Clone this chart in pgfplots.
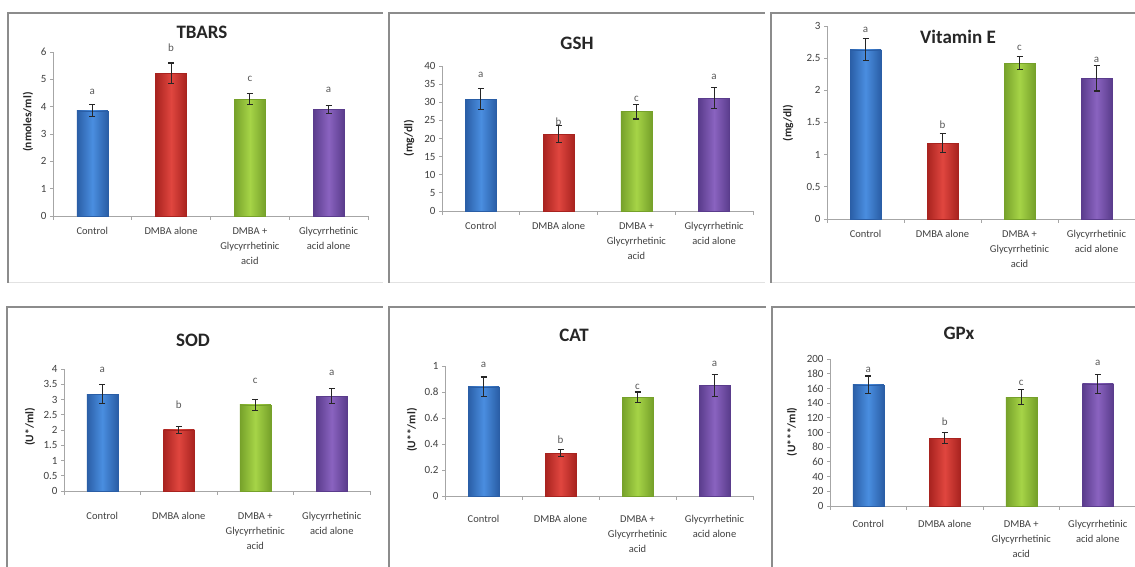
\documentclass[border=0pt]{standalone}
\usepackage{fontspec}
\setmainfont{Carlito}
\usepackage{pgfplots}
\pgfplotsset{compat=1.18}
\definecolor{axisgray}{HTML}{A6A6A6}
\definecolor{framegray}{HTML}{8C8C8C}
\definecolor{faintgray}{HTML}{E2E2E2}
\definecolor{textgray}{HTML}{404040}
\definecolor{lettergray}{HTML}{5A5A5A}
\definecolor{blueE}{HTML}{2A5EA6}
\definecolor{blueM}{HTML}{4A8EE0}
\definecolor{redE}{HTML}{A8231F}
\definecolor{redM}{HTML}{E0463F}
\definecolor{greenE}{HTML}{76A12A}
\definecolor{greenM}{HTML}{A6D447}
\definecolor{purpleE}{HTML}{5A3C8C}
\definecolor{purpleM}{HTML}{8A63C0}
\pgfplotsset{
  panel/.style={
    scale only axis, anchor=south west,
    xmin=-0.5, xmax=3.5, ymin=0,
    axis x line=bottom, axis y line=left,
    axis line style={draw=axisgray, line width=0.8pt, -},
    xtick={0,1,2,3},
    xticklabels={Control, DMBA alone, {DMBA +\\Glycyrrhetinic\\acid}, {Glycyrrhetinic\\acid alone}},
    x tick label style={align=center, font=\fontsize{10.5}{15}\selectfont, text=textgray, anchor=north, yshift=-5pt},
    major x tick style={draw=none},
    extra x ticks={-0.5,0.5,1.5,2.5,3.5}, extra x tick labels={},
    extra x tick style={major x tick style={draw=axisgray, line width=0.8pt}, major tick length=4pt},
    y tick label style={font=\fontsize{11}{12}\selectfont, text=textgray},
    major y tick style={draw=axisgray, line width=0.8pt},
    tick align=outside, major tick length=3pt,
    scaled y ticks=false,
    /pgf/number format/assume math mode=true,
    clip=false,
  },
  mybar/.style={ybar, bar width=31pt, bar shift=0pt, draw=#1E, line width=0.4pt,
    left color=#1E, right color=#1E, middle color=#1M,
    error bars/.cd, y dir=both, y explicit, error mark=-,
    error bar style={line width=1.2pt, black!85},
    error mark options={rotate=90, line width=1.2pt, black!85, mark size=3pt}},
  letters/.style={draw=none, mark=none, nodes near coords, point meta=explicit symbolic,
    every node near coord/.append style={anchor=center, font=\fontsize{11}{12}\selectfont, text=lettergray}},
}
\begin{document}
\begin{tikzpicture}
\useasboundingbox (0,0) rectangle (1135pt,567pt);
% frames top row
\draw[faintgray, line width=1pt] (8pt,284pt) -- (383pt,284pt) (389pt,284pt) -- (765pt,284pt) (771pt,284pt) -- (1135pt,284pt);
\draw[framegray, line width=1.4pt] (8pt,284pt) -- (8pt,554pt) -- (383pt,554pt);
\draw[framegray, line width=1.4pt] (389pt,284pt) -- (389pt,554pt) -- (765pt,554pt);
\draw[framegray, line width=1.4pt] (771pt,284pt) -- (771pt,554pt) -- (1135pt,554pt);
% frames bottom row
\draw[framegray, line width=1.4pt] (7pt,0pt) -- (7pt,260pt) -- (383pt,260pt);
\draw[framegray, line width=1.4pt] (389pt,0pt) -- (389pt,260pt) -- (766pt,260pt);
\draw[framegray, line width=1.4pt] (772pt,0pt) -- (772pt,260pt) -- (1135pt,260pt);

% TBARS
\begin{axis}[panel, at={(53pt,351pt)}, width=315pt, height=164pt, ymax=6, ytick={0,1,...,6}]
\addplot[mybar=blue] coordinates {(0,3.85) +- (0,0.22)};
\addplot[mybar=red] coordinates {(1,5.23) +- (0,0.37)};
\addplot[mybar=green] coordinates {(2,4.27) +- (0,0.2)};
\addplot[mybar=purple] coordinates {(3,3.9) +- (0,0.15)};
\addplot[letters] coordinates {(0,4.54)[a] (1,6.15)[b] (2,5.01)[c] (3,4.61)[a]};
\end{axis}
% GSH
\begin{axis}[panel, at={(442pt,356pt)}, width=311pt, height=145pt, ymax=40, ytick={0,5,...,40}]
\addplot[mybar=blue] coordinates {(0,30.8) +- (0,2.9)};
\addplot[mybar=red] coordinates {(1,21.2) +- (0,2.3)};
\addplot[mybar=green] coordinates {(2,27.4) +- (0,2.0)};
\addplot[mybar=purple] coordinates {(3,31.1) +- (0,2.9)};
\addplot[letters] coordinates {(0,37.5)[a] (1,24.6)[b] (2,30.9)[c] (3,37.0)[a]};
\end{axis}
% Vitamin E
\begin{axis}[panel, at={(827pt,348pt)}, width=308pt, height=193pt, ymax=3, ytick={0,0.5,...,3}]
\addplot[mybar=blue] coordinates {(0,2.63) +- (0,0.17)};
\addplot[mybar=red] coordinates {(1,1.18) +- (0,0.15)};
\addplot[mybar=green] coordinates {(2,2.42) +- (0,0.1)};
\addplot[mybar=purple] coordinates {(3,2.19) +- (0,0.2)};
\addplot[letters] coordinates {(0,2.94)[a] (1,1.46)[b] (2,2.66)[c] (3,2.47)[a]};
\end{axis}
% SOD
\begin{axis}[panel, at={(64pt,76pt)}, width=306pt, height=122pt, ymax=4, ytick={0,0.5,...,4}, x tick label style={yshift=-10pt}]
\addplot[mybar=blue] coordinates {(0,3.18) +- (0,0.3)};
\addplot[mybar=red] coordinates {(1,2.0) +- (0,0.12)};
\addplot[mybar=green] coordinates {(2,2.82) +- (0,0.17)};
\addplot[mybar=purple] coordinates {(3,3.11) +- (0,0.25)};
\addplot[letters] coordinates {(0,3.97)[a] (1,2.82)[b] (2,3.6)[c] (3,3.87)[a]};
\end{axis}
% CAT
\begin{axis}[panel, at={(445pt,71pt)}, width=308pt, height=130pt, ymax=1, ytick={0,0.2,...,1.0}, x tick label style={yshift=-8pt}]
\addplot[mybar=blue] coordinates {(0,0.84) +- (0,0.075)};
\addplot[mybar=red] coordinates {(1,0.33) +- (0,0.025)};
\addplot[mybar=green] coordinates {(2,0.76) +- (0,0.04)};
\addplot[mybar=purple] coordinates {(3,0.85) +- (0,0.085)};
\addplot[letters] coordinates {(0,1.01)[a] (1,0.43)[b] (2,0.84)[c] (3,1.02)[a]};
\end{axis}
% GPx
\begin{axis}[panel, at={(830pt,61pt)}, width=306pt, height=147pt, ymax=200, ytick={0,20,...,200}, x tick label style={yshift=-3pt}]
\addplot[mybar=blue] coordinates {(0,165) +- (0,12)};
\addplot[mybar=red] coordinates {(1,92.5) +- (0,7.5)};
\addplot[mybar=green] coordinates {(2,148) +- (0,10)};
\addplot[mybar=purple] coordinates {(3,166) +- (0,13)};
\addplot[letters] coordinates {(0,185)[a] (1,114)[b] (2,167)[c] (3,195)[a]};
\end{axis}

% titles
\begin{scope}[every node/.style={font=\bfseries\fontsize{19}{22}\selectfont, text=black!85}]
\node at (202pt,535pt) {TBARS};
\node at (577pt,524pt) {GSH};
\node at (958pt,530pt) {Vitamin E};
\node at (193pt,227pt) {SOD};
\node at (574pt,232pt) {CAT};
\node at (959pt,234pt) {GPx};
\end{scope}
% y labels
\begin{scope}[every node/.style={rotate=90, font=\bfseries\fontsize{11.5}{13}\selectfont, text=black!85}]
\node at (28pt,445pt) {(nmoles/ml)};
\node at (409pt,429pt) {(mg/dl)};
\node at (788pt,444pt) {(mg/dl)};
\node at (30pt,140pt) {(U*/ml)};
\node at (412pt,137pt) {(U**/ml)};
\node at (792pt,135pt) {(U***/ml)};
\end{scope}
\end{tikzpicture}
\end{document}
